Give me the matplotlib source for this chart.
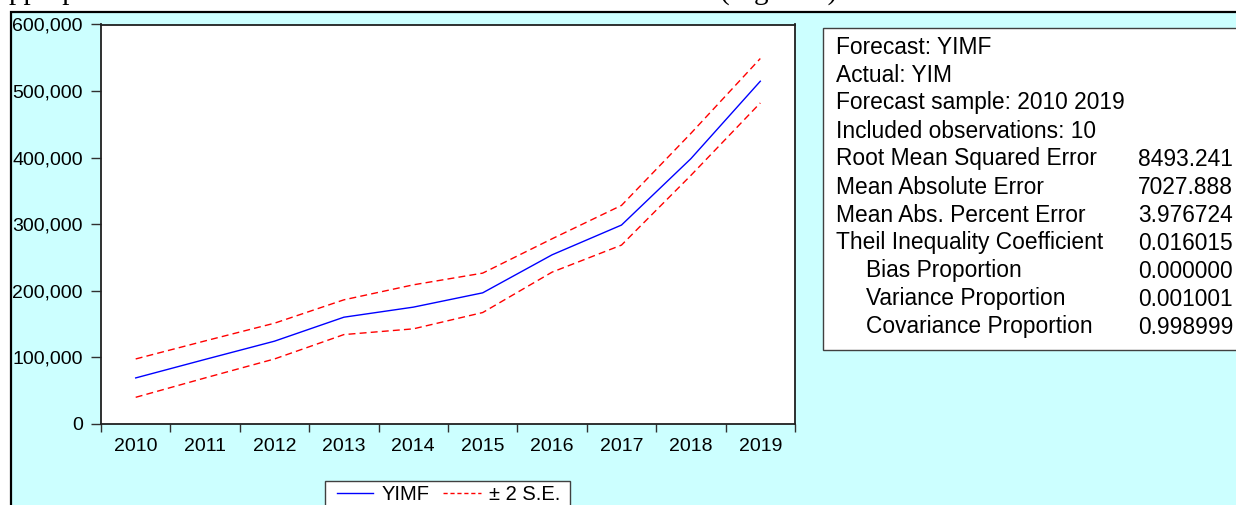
import matplotlib
matplotlib.use('Agg')
import matplotlib.pyplot as plt
from matplotlib.patches import Rectangle
from matplotlib.ticker import FuncFormatter
from matplotlib.lines import Line2D

# --- data
years = ['2010', '2011', '2012', '2013', '2014', '2015', '2016', '2017', '2018', '2019']
yimf = [69200, 97000, 124400, 160400, 175500, 197000, 254100, 298800, 398500, 514800]
upper = [97700, 124800, 151400, 186500, 209000, 226600, 278200, 328300, 436500, 548900]
lower = [40100, 69200, 97700, 134300, 142900, 167400, 228100, 268700, 373400, 482200]

stats_names = ['Root Mean Squared Error', 'Mean Absolute Error', 'Mean Abs. Percent Error',
               'Theil Inequality Coefficient', '   Bias Proportion', '   Variance Proportion',
               '   Covariance Proportion']
stats_values = ['8493.241', '7027.888', '3.976724', '0.016015', '0.000000', '0.001001', '0.998999']
header_lines = ['Forecast: YIMF', 'Actual: YIM', 'Forecast sample: 2010 2019', 'Included observations: 10']
legend_labels = ['YIMF', '± 2 S.E.']

W, H = 1236, 505
plt.rcParams['font.family'] = ['Liberation Sans', 'DejaVu Sans']
fig = plt.figure(figsize=(W / 100, H / 100), dpi=100)
fig.patch.set_facecolor('white')


def fx(px):
    return px / W


def fy(py):
    return (H - py) / H


# --- cut off line of the page text above the chart
fig.text(fx(-4), fy(-1), 'appropriate', family='Liberation Serif', fontsize=21, va='baseline')
fig.text(fx(720), fy(-1), '(Figure 4).', family='Liberation Serif', fontsize=21, va='baseline')

# --- cyan background with black border
fig.patches.append(Rectangle((fx(11), fy(520)), fx(1300), fy(12) - fy(520), transform=fig.transFigure,
                             facecolor='#ccffff', edgecolor='black', linewidth=1.6, zorder=-1))

# --- statistics box
fig.patches.append(Rectangle((fx(823), fy(350)), fx(460), fy(28) - fy(350), transform=fig.transFigure,
                             facecolor='white', edgecolor='#404040', linewidth=1.0, zorder=1))
lines = header_lines + stats_names
for i, s in enumerate(lines):
    ypos = 53.5 + 28 * i
    xpos = 866 if s.startswith('   ') else 836
    fig.text(fx(xpos), fy(ypos), s.strip(), fontsize=16.4, va='baseline', zorder=2)
for i, v in enumerate(stats_values):
    ypos = 53.5 + 28 * (i + len(header_lines))
    fig.text(fx(1138), fy(ypos), v, fontsize=16.4, va='baseline', zorder=2)

# --- main axes
ax = fig.add_axes([fx(101), fy(424), fx(795) - fx(101), fy(24.5) - fy(424)])
ax.set_facecolor('white')
x = list(range(len(years)))
ax.plot(x, yimf, color='#0000ff', linewidth=1.0)
ax.plot(x, upper, color='#ff0000', linewidth=1.0, dashes=(5, 3))
ax.plot(x, lower, color='#ff0000', linewidth=1.0, dashes=(5, 3))

ax.set_xlim(-0.5, len(years) - 0.5)
ax.set_ylim(0, 600000)
ax.set_yticks(range(0, 600001, 100000))
ax.yaxis.set_major_formatter(FuncFormatter(lambda v, p: '{:,.0f}'.format(v)))
ax.set_xticks([i - 0.5 for i in range(len(years) + 1)])
ax.set_xticklabels([])
ax.set_xticks(x, minor=True)
ax.set_xticklabels(years, minor=True)
ax.tick_params(axis='x', which='major', direction='out', length=6, width=1, color='#303030')
ax.tick_params(axis='x', which='minor', length=0, pad=10, labelsize=14)
ax.tick_params(axis='y', direction='out', length=7, width=1, color='#303030', pad=6, labelsize=14)
for sp in ax.spines.values():
    sp.set_color('#202020')
    sp.set_linewidth(1.3)

# --- legend at the bottom (frame runs off the bottom edge)
fig.patches.append(Rectangle((fx(325), fy(520)), fx(245), fy(481) - fy(520), transform=fig.transFigure,
                             facecolor='white', edgecolor='#404040', linewidth=1.0, zorder=1))
fig.lines.append(Line2D([fx(337), fx(373)], [fy(493), fy(493)], transform=fig.transFigure,
                        color='#0000ff', linewidth=1.0, zorder=2))
fig.lines.append(Line2D([fx(443), fx(481)], [fy(493), fy(493)], transform=fig.transFigure,
                        color='#ff0000', linewidth=1.0, dashes=(3, 2), zorder=2))
fig.text(fx(382), fy(499.5), legend_labels[0], fontsize=14.5, va='baseline', zorder=2)
fig.text(fx(489), fy(499.5), legend_labels[1], fontsize=14.5, va='baseline', zorder=2)

fig.savefig('out.png', dpi=100)
